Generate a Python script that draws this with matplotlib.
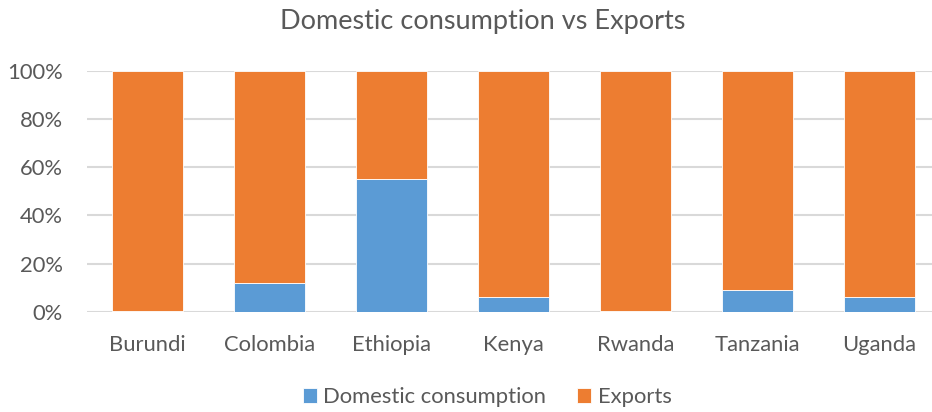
import matplotlib
matplotlib.use("Agg")
import matplotlib.pyplot as plt
from matplotlib.ticker import FuncFormatter

countries = ["Burundi", "Colombia", "Ethiopia", "Kenya", "Rwanda", "Tanzania", "Uganda"]
domestic = [0.3, 11.8, 55.3, 6.3, 0.2, 9.0, 6.0]
exports = [99.7, 88.2, 44.7, 93.7, 99.8, 91.0, 94.0]
yticks = [0, 20, 40, 60, 80, 100]

blue = "#5B9BD5"
orange = "#ED7D31"
text_col = "#595959"
grid_col = "#D9D9D9"

plt.rcParams["font.family"] = ["Lato", "DejaVu Sans"]

fig = plt.figure(figsize=(9.32, 4.12), dpi=100)
W, H = 932, 412
left, right = 86.5, 940.5
top, bottom = 71.0, 311.7
ax = fig.add_axes([left / W, 1 - bottom / H, (right - left) / W, (bottom - top) / H])

x = range(len(countries))
ax.bar(x, domestic, width=0.575, color=blue, edgecolor="white", linewidth=0.6,
       label="Domestic consumption", zorder=3)
ax.bar(x, exports, width=0.575, bottom=domestic, color=orange, edgecolor="white",
       linewidth=0.6, label="Exports", zorder=3)

ax.set_xlim(-0.5, len(countries) - 0.5)
ax.set_ylim(0, 100)
ax.set_yticks(yticks)
ax.yaxis.set_major_formatter(FuncFormatter(lambda v, p: f"{int(v)}%"))
ax.set_xticks(list(x))
ax.set_xticklabels(countries)
ax.grid(axis="y", color=grid_col, linewidth=1.5, zorder=0)
ax.set_axisbelow(True)
for s in ax.spines.values():
    s.set_visible(False)
ax.tick_params(axis="both", length=0, labelsize=15.8, labelcolor=text_col)
ax.tick_params(axis="x", pad=17)
ax.tick_params(axis="y", pad=17)

fig.text(483 / W, 1 - 21 / H, "Domestic consumption vs Exports", ha="center", va="center",
         fontsize=19.5, color=text_col)

fig.legend(loc="center", bbox_to_anchor=(487 / W, 1 - 397 / H), ncol=2, frameon=False,
           fontsize=15.8, labelcolor=text_col, handlelength=0.64, handleheight=0.64,
           handletextpad=0.3, columnspacing=1.4)

fig.savefig("out.png", dpi=100)
